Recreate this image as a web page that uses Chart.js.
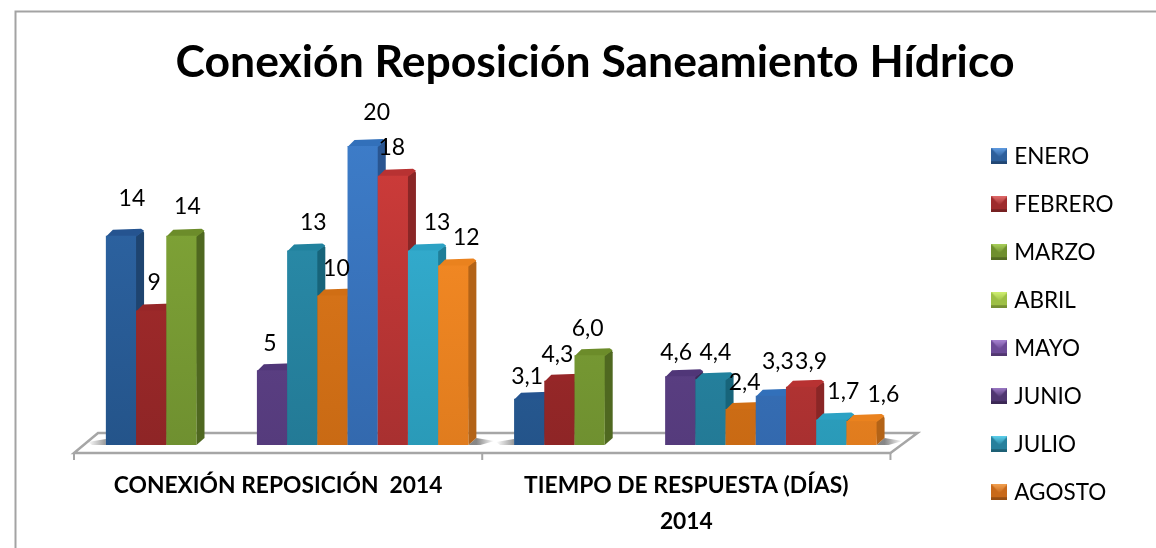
<!DOCTYPE html>
<html><head><meta charset="utf-8">
<style>html,body{margin:0;padding:0;background:#fff;overflow:hidden}canvas{display:block}</style>
<script src="https://cdn.jsdelivr.net/npm/chart.js@4/dist/chart.umd.min.js"></script>
</head><body><canvas id="c" width="1156" height="548"></canvas>
<script>
const titleText = "Conexión Reposición Saneamiento Hídrico";
const categories = ["CONEXIÓN REPOSICIÓN  2014", ["TIEMPO DE RESPUESTA (DÍAS)", "2014"]];
const enero = [14, 3.1];
const febrero = [9, 4.3];
const marzo = [14, 6.0];
const abril = [null, null];
const mayo = [null, null];
const junio = [5, 4.6];
const julio = [13, 4.4];
const agosto = [10, 2.4];
const septiembre = [20, 3.3];
const octubre = [18, 3.9];
const noviembre = [13, 1.7];
const diciembre = [12, 1.6];
const seriesNames = ["ENERO","FEBRERO","MARZO","ABRIL","MAYO","JUNIO","JULIO","AGOSTO","SEPTIEMBRE","OCTUBRE","NOVIEMBRE","DICIEMBRE"];
const seriesValues = [enero,febrero,marzo,abril,mayo,junio,julio,agosto,septiembre,octubre,noviembre,diciembre];
const visibleLegendItems = 8;
// [front top, front bottom, side, top]
const palette = [
 ["#2f67a8","#24548a","#1e4470","#255490"],
 ["#ad2d2d","#8e2526","#6c1d1e","#962628"],
 ["#83a838","#6f9030","#4f6820","#6c8c2a"],
 ["#a8cc52","#8aa83c","#5f7a24","#90b03c"],
 ["#6c4a96","#573b7c","#3f2b5c","#553a7a"],
 ["#654690","#553b7c","#3c2a58","#503678"],
 ["#2b90ae","#237a96","#17647a","#21829e"],
 ["#e07a1c","#c96a14","#a5560f","#d06e14"],
 ["#3d7cc8","#3369ae","#295590","#3270ba"],
 ["#cf3c3a","#a83030","#8a2626","#b83232"],
 ["#36b2d6","#2a9ab8","#1f7e98","#2ca2c4"],
 ["#fb8e26","#e07c1e","#b36317","#ea821e"]
];
const legendSwatch = ["#2d5f9b","#9e2b2c","#6f8f2e","#9dbf45","#6c4a96","#4f3670","#27809c","#c8691a","#3369ae","#a83030","#2a9ab8","#e07c1e"];
const legendLight = ["#5f9be0","#e06a6a","#a9cf5a","#cfef70","#a682d0","#9a78c4","#5cd0ec","#f2a050","#6fa8ee","#ee7a7a","#70dcf5","#ffb060"];
// label placement relative to each bar: [dx, dy] per category
const labelNudge = [
 [[11,-37],[-2,-22]],[[3,-28],[-2,-26]],[[6,-29],[-2,-27]],[[0,0],[0,0]],[[0,0],[0,0]],
 [[-2,-27],[-4,-24]],[[11,-28],[5,-27]],[[4,-27],[4,-27]],[[14,-33],[7,-34]],[[-1,-28],[10,-25]],
 [[14,-28],[12,-28]],[[13,-28],[22,-26]]
];
const DEPTH_X = 8, DEPTH_Y = 7;

function swatch(i){
  const c=document.createElement('canvas');c.width=16;c.height=16;const g=c.getContext('2d');
  g.fillStyle=legendSwatch[i];g.fillRect(0,0,16,16);
  const gr=g.createLinearGradient(0,0,0,9);gr.addColorStop(0,legendLight[i]);gr.addColorStop(1,legendSwatch[i]);
  g.fillStyle=gr;g.beginPath();g.moveTo(0,0);g.lineTo(16,0);g.lineTo(8,9);g.closePath();g.fill();
  g.fillStyle='rgba(0,0,0,.25)';g.fillRect(0,13,16,3);
  return c;
}
const swatches = seriesNames.map((_,i)=>swatch(i));

const scene = {
  id:'scene',
  afterLayout(chart){
    // keep the legend column ending above the taller axis-label block
    chart.legend.bottom -= 11;
    chart.legend.adjustHitBoxes();
  },
  beforeDraw(chart){
    const {ctx}=chart;
    ctx.save();
    ctx.fillStyle='#fff';ctx.fillRect(0,0,chart.width,chart.height);
    ctx.strokeStyle='#a3a3a3';ctx.lineWidth=2;
    ctx.beginPath();ctx.moveTo(15.5,548);ctx.lineTo(15.5,11.5);ctx.lineTo(1156,11.5);ctx.stroke();
    ctx.restore();
  },
  beforeDatasetsDraw(chart){
    const {ctx,chartArea:a,scales:{x,y}}=chart;
    const base=y.getPixelForValue(0);
    const backY=base-12, frontY=base+8, bl=a.left+15, fl=a.left-9, br=a.right+18, fr=a.right-9;
    ctx.save();
    ctx.fillStyle='#fff';ctx.strokeStyle='#a6a6a6';ctx.lineWidth=2.5;
    ctx.beginPath();ctx.moveTo(bl,backY);ctx.lineTo(br,backY);ctx.lineTo(fr,frontY);ctx.lineTo(fl,frontY);ctx.closePath();ctx.fill();ctx.stroke();
    ctx.lineWidth=2;
    [fl,(fl+fr)/2,fr].forEach(tx=>{ctx.beginPath();ctx.moveTo(tx,frontY);ctx.lineTo(tx,frontY+7);ctx.stroke();});
    // soft floor shadows beside each group
    x.ticks.forEach((_,ci)=>{
      let lo=1e9,hi=-1e9;
      chart.data.datasets.forEach((d,i)=>{ if(d.data[ci]==null)return; const b=chart.getDatasetMeta(i).data[ci]; lo=Math.min(lo,b.x-b.width/2); hi=Math.max(hi,b.x+b.width/2);});
      let g=ctx.createLinearGradient(hi+DEPTH_X,0,hi+DEPTH_X+18,0);g.addColorStop(0,'rgba(70,70,70,.65)');g.addColorStop(1,'rgba(70,70,70,0)');
      ctx.fillStyle=g;ctx.beginPath();ctx.moveTo(hi,base);ctx.lineTo(hi+DEPTH_X,base-DEPTH_Y);ctx.lineTo(hi+DEPTH_X+18,base-4);ctx.lineTo(hi+12,base);ctx.closePath();ctx.fill();
      g=ctx.createLinearGradient(lo-18,0,lo,0);g.addColorStop(0,'rgba(70,70,70,0)');g.addColorStop(1,'rgba(70,70,70,.55)');
      ctx.fillStyle=g;ctx.beginPath();ctx.moveTo(lo,base-6);ctx.lineTo(lo-18,base-3);ctx.lineTo(lo-14,base);ctx.lineTo(lo,base);ctx.closePath();ctx.fill();
    });
    // paint series left to right so each front face covers its neighbour's side
    chart.data.datasets.forEach((d,i)=>{
      const meta=chart.getDatasetMeta(i), col=palette[i];
      meta.data.forEach((b,ci)=>{
        if(d.data[ci]==null)return;
        const l=b.x-b.width/2,r=b.x+b.width/2,t=b.y;
        ctx.fillStyle=col[2];ctx.beginPath();ctx.moveTo(r-1,t+1);ctx.lineTo(r+DEPTH_X-1,t-DEPTH_Y+2);ctx.lineTo(r+DEPTH_X,t-DEPTH_Y+4);ctx.lineTo(r+DEPTH_X,base-DEPTH_Y);ctx.lineTo(r,base);ctx.closePath();ctx.fill();
        ctx.fillStyle=col[3];ctx.beginPath();ctx.moveTo(l,t+1);ctx.lineTo(l+DEPTH_X-1,t-DEPTH_Y+1);ctx.lineTo(r+DEPTH_X-3,t-DEPTH_Y);ctx.lineTo(r+DEPTH_X,t-DEPTH_Y+2);ctx.lineTo(r,t+1);ctx.closePath();ctx.fill();
      });
      meta.controller.draw();
    });
    ctx.fillStyle='#000';ctx.font='23px Lato';ctx.textAlign='center';ctx.textBaseline='middle';
    chart.data.datasets.forEach((d,i)=>{
      chart.getDatasetMeta(i).data.forEach((b,ci)=>{
        const v=d.data[ci]; if(v==null)return;
        const txt=(ci===0?v.toFixed(0):v.toFixed(1)).replace('.',',');
        ctx.fillText(txt,b.x+labelNudge[i][ci][0],b.y+labelNudge[i][ci][1]);
      });
    });
    ctx.restore();
    return false;
  }
};

new Chart(document.getElementById('c'),{
  type:'bar',
  data:{labels:categories,datasets:seriesNames.map((n,i)=>({
    label:n,data:seriesValues[i],
    pointStyle:swatches[i],
    backgroundColor(c){
      const a=c.chart.chartArea; if(!a)return palette[i][0];
      const g=c.chart.ctx.createLinearGradient(0,140,0,a.bottom);
      g.addColorStop(0,palette[i][0]);g.addColorStop(1,palette[i][1]);return g;
    },
    categoryPercentage:0.888,barPercentage:1,borderWidth:0
  }))},
  options:{
    responsive:false,animation:false,
    layout:{padding:{left:66.5,top:0,bottom:8,right:32.5}},
    scales:{
      x:{offset:true,grid:{display:false},border:{display:false},
         ticks:{color:'#000',font:{family:'Lato',weight:'bold',size:22.8,lineHeight:1.58},maxRotation:0,minRotation:0,autoSkip:false,labelOffset:-9,padding:15},
         afterFit(s){s.height=95;}},
      y:{min:0,max:22,ticks:{display:false},grid:{display:false},border:{display:false},afterFit(s){s.width=16.5;}},
      gutter:{axis:'y',position:'right',ticks:{display:false},grid:{display:false},border:{display:false},afterFit(s){s.width=71;}}
    },
    plugins:{
      tooltip:{enabled:false},
      title:{display:true,text:titleText,color:'#000',font:{family:'Lato',weight:'bold',size:44.5,lineHeight:1.2},padding:{top:36,bottom:26.6}},
      legend:{position:'right',align:'end',
        labels:{usePointStyle:true,boxWidth:7,boxHeight:16,padding:25.5,color:'#000',font:{family:'Lato',size:22.5},
          filter:(it)=>it.datasetIndex<visibleLegendItems,
          generateLabels(ch){return ch.data.datasets.map((d,i)=>({text:d.label,datasetIndex:i,pointStyle:swatches[i],hidden:false,fillStyle:legendSwatch[i],strokeStyle:legendSwatch[i],lineWidth:0,fontColor:'#000'}));}
        }}
    }
  },
  plugins:[scene]
});
</script></body></html>
